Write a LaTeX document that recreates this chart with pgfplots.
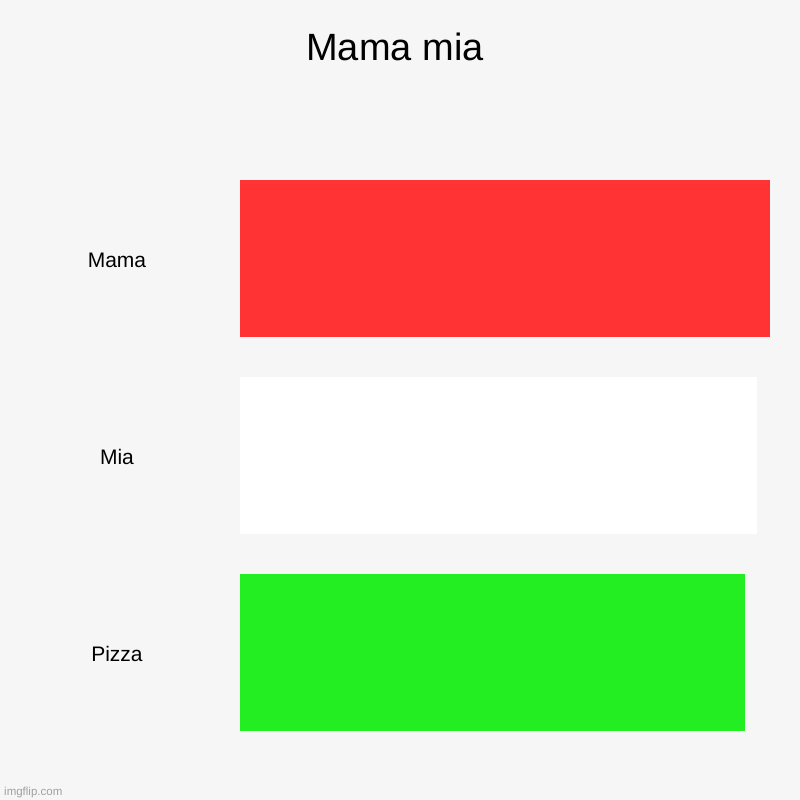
\documentclass[border=0pt]{standalone}
\usepackage{pgfplots}
\pgfplotsset{compat=1.18}
\usepackage{fontspec}
\setmainfont{Liberation Sans}
\definecolor{bg}{HTML}{F6F6F6}
\definecolor{barred}{HTML}{FF3333}
\definecolor{barwhite}{HTML}{FFFFFF}
\definecolor{bargreen}{HTML}{22EE22}
\definecolor{wmark}{HTML}{A0A0A0}
\begin{document}
\begin{tikzpicture}[x=1pt,y=1pt]
\fill[bg] (0,0) rectangle (800,800);
\node[font=\fontsize{38}{40}\selectfont] at (395,753) {Mama mia};
\begin{axis}[
    at={(240pt,69pt)}, anchor=south west,
    scale only axis, width=530pt, height=551.6pt,
    xmin=0, xmax=100, ymin=-0.4, ymax=2.4,
    y dir=reverse,
    xbar, bar width=157pt, bar shift=0pt,
    axis line style={draw=none},
    xtick=\empty,
    ytick={0,1,2}, yticklabels={Mama,Mia,Pizza},
    major tick length=0pt,
    yticklabel style={anchor=center, xshift=-123pt, yshift=-2pt, font=\fontsize{21}{24}\selectfont},
    clip=false,
]
% Mama
\addplot[draw=none, fill=barred] coordinates {(100,0)};
% Mia
\addplot[draw=none, fill=barwhite] coordinates {(97.5,1)};
% Pizza
\addplot[draw=none, fill=bargreen] coordinates {(95.3,2)};
\end{axis}
\node[anchor=base west, text=wmark, font=\fontsize{11.5}{12}\selectfont, inner sep=0pt] at (4,5) {imgflip.com};
\end{tikzpicture}
\end{document}
